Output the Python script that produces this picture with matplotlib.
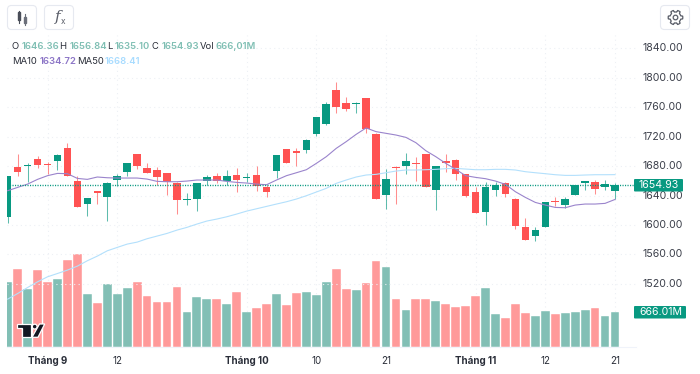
import matplotlib
matplotlib.use('Agg')
import matplotlib.pyplot as plt
from matplotlib.patches import FancyBboxPatch, Polygon, Circle, Rectangle
import numpy as np

plt.rcParams['font.family'] = ['Inter', 'DejaVu Sans']

#price data, one value per session
opens = [1611, 1678.3, 1679.7, 1689.6, 1682.8, 1687.4, 1704.6, 1660.2, 1628.9, 1645.7, 1638.4,
         1661.5, 1672, 1695.9, 1677.8, 1675.1, 1670.6, 1656.6, 1633.9, 1634.8, 1660.2,
         1666, 1659.3, 1667.4, 1663.8, 1667.9, 1652, 1672.9, 1703.2, 1700, 1702.3,
         1724, 1737.6, 1782.9, 1765.7, 1764.4, 1772.5, 1723.1, 1640.2, 1678.7, 1680.1,
         1684.2, 1696.4, 1647.5, 1686.4, 1688.3, 1669.2, 1644.3, 1617.6, 1647.5, 1656.6,
         1635.7, 1597.7, 1585, 1596.8, 1632.5, 1627.1, 1640.2, 1657.5, 1658.4, 1651.1, 1646.36]
highs = [1667, 1696.4, 1683.7, 1693.7, 1685.5, 1696.4, 1710.9, 1666.5, 1637.1, 1646.6, 1657.9,
         1669.7, 1684.2, 1695.9, 1684.2, 1679.2, 1670.6, 1658.8, 1643.4, 1657, 1667.4,
         1671, 1674.7, 1676.9, 1670.1, 1680.1, 1653.8, 1694.6, 1703.2, 1704.6, 1717.3,
         1746.7, 1766.6, 1794.3, 1773.4, 1767.5, 1772.5, 1724.5, 1676.5, 1679.6, 1697.8,
         1691.9, 1696.4, 1680.1, 1695.9, 1690.1, 1669.2, 1652, 1658.4, 1658.8, 1658.4,
         1636.6, 1609.4, 1596.8, 1631.2, 1638.4, 1637.5, 1653.8, 1659.7, 1660.6, 1660.6, 1656.84]
lows = [1603, 1667, 1658.8, 1677.8, 1669.2, 1674.7, 1666, 1623.9, 1612.6, 1628.9, 1605.4,
        1652.9, 1667, 1676, 1670.6, 1654.3, 1640.7, 1615.3, 1626.6, 1618.5, 1653.8,
        1657, 1653.8, 1644.8, 1658.4, 1646.6, 1638.4, 1663.4, 1684.6, 1680.1, 1697.8,
        1720.9, 1735.4, 1752.6, 1754.4, 1752.6, 1724.5, 1635.7, 1621.7, 1628, 1669.2,
        1659.7, 1652, 1620.3, 1671.5, 1660.6, 1638.4, 1616.7, 1599.9, 1639.3, 1637.5,
        1594.5, 1579.5, 1577.7, 1596.8, 1625.7, 1622.6, 1640.2, 1647, 1642.5, 1647.5, 1635.10]
closes = [1667, 1672.4, 1681.5, 1681.9, 1681, 1695.5, 1666, 1623.9, 1637.1, 1643, 1657.5,
          1667, 1684.2, 1680.6, 1670.6, 1664.7, 1657.9, 1633.9, 1635.3, 1657, 1665.6,
          1660.2, 1666, 1661.5, 1665.2, 1652.5, 1645.2, 1694.6, 1684.6, 1697.8, 1715.9,
          1746.7, 1764.8, 1760.3, 1757.6, 1766.2, 1730.8, 1635.7, 1662.4, 1677.4, 1686.4,
          1682.8, 1652, 1680.1, 1684.6, 1669.2, 1639.3, 1616.7, 1651.6, 1654.3, 1642.5,
          1599, 1579.5, 1592.7, 1631.2, 1631.2, 1634.8, 1653.8, 1659.7, 1648.4, 1655.2, 1654.93]
volumes = [1214, 1456, 1083, 1444, 1220, 1270, 1624, 1749, 1002, 822, 1183,
           996, 1108, 1214, 958, 853, 853, 1127, 654, 934, 902,
           896, 803, 1033, 666, 728, 803, 990, 784, 1008, 1027,
           983, 1214, 1469, 1089, 1071, 1207, 1612, 1506, 902, 697,
           902, 896, 871, 809, 753, 772, 952, 1114, 616, 548,
           809, 647, 591, 678, 622, 647, 654, 697, 741, 591, 666.01]
ma10 = [1646.6, 1651.1, 1655.6, 1662, 1667, 1670.1, 1669.7, 1663.3, 1662, 1665.2, 1664.2,
        1663.8, 1663.8, 1663.8, 1662.4, 1659.3, 1658.8, 1658.8, 1659.7, 1661.1, 1661.1,
        1661.1, 1659.3, 1657.9, 1657, 1655.6, 1654.7, 1661.1, 1667, 1671, 1675.1,
        1683.7, 1692.8, 1704.1, 1713.2, 1723.1, 1731.8, 1726.8, 1724.5, 1722.2, 1719,
        1711.8, 1700.9, 1692.8, 1683.7, 1675.6, 1667, 1664.7, 1662.9, 1659.7, 1655.2,
        1645.2, 1637.5, 1630.7, 1627.1, 1623.9, 1623.5, 1627.1, 1628.5, 1628.5, 1629.4, 1634.72]
ma50 = [1499.4, 1507, 1515.2, 1522.9, 1529.7, 1534.2, 1538.8, 1544.2, 1551.5, 1557.8, 1565,
        1569.6, 1574.1, 1576.8, 1581.4, 1585, 1588.6, 1593.1, 1596.8, 1601.3, 1605.4,
        1608.1, 1611.2, 1614.9, 1618.9, 1622.1, 1625.3, 1628.5, 1631.6, 1635.3, 1639.8,
        1644.8, 1649.8, 1656.6, 1661.1, 1665.2, 1667.9, 1668.8, 1671, 1673.3, 1674.7,
        1674.7, 1675.1, 1675.6, 1676.5, 1676.9, 1676, 1675.1, 1675.1, 1675.6, 1675.6,
        1674.7, 1672.4, 1671, 1669.7, 1668.3, 1667.4, 1667.4, 1667.9, 1668.3, 1668.3, 1668.41]

price_ticks = [1520, 1560, 1600, 1640, 1680, 1720, 1760, 1800, 1840]
time_ticks = [4, 11, 24, 31, 38, 47, 54, 61]
time_labels = ['Tháng 9', '12', 'Tháng 10', '10', '21', 'Tháng 11', '12', '21']
time_bold = [True, False, True, False, False, True, False, False]

UP = '#089981'
DOWN = '#FF5252'
VOL_UP = '#82BFB5'
VOL_DOWN = '#FF9A9A'
GRID = '#EDF0F5'
TEXT = '#2A2E39'

W, H = 700, 374
fig = plt.figure(figsize=(7, 3.74), dpi=100)

#chart area in pixels: x 7-636, y 35-347
rect = [7 / W, 1 - 347.3 / H, 629 / W, 312.3 / H]

#volume goes behind the candles
ax_vol = fig.add_axes(rect)
ax = fig.add_axes(rect)
ax.patch.set_alpha(0)

x = np.arange(len(closes))
is_up = np.array(closes) >= np.array(opens)

ax_vol.bar(x, volumes, width=0.88, color=[VOL_UP if u else VOL_DOWN for u in is_up],
           edgecolor='white', linewidth=0.3)
ax_vol.set_xlim(-0.07, 63.11)
ax_vol.set_ylim(0, 5830)
ax_vol.set_yticks([])
ax_vol.set_xticks(time_ticks)
ax_vol.set_xticklabels([])
ax_vol.tick_params(length=0)
ax_vol.grid(axis='x', color=GRID, linestyle=(0, (1, 3)), linewidth=0.8)
ax_vol.set_axisbelow(True)
for s in ['top', 'left', 'right']:
    ax_vol.spines[s].set_visible(False)
ax_vol.spines['bottom'].set_color('#F0F3FA')

#horizontal grid
for p in price_ticks:
    ax.axhline(p, color=GRID, linestyle=(0, (1, 3)), linewidth=0.8, zorder=0)

#candles
for i in x:
    c = UP if is_up[i] else DOWN
    ax.plot([i, i], [lows[i], highs[i]], color=c, linewidth=0.75, alpha=0.65, zorder=2,
            solid_capstyle='butt')
    top = max(opens[i], closes[i])
    bot = min(opens[i], closes[i])
    ax.bar(i, top - bot, bottom=bot, width=0.76, color=c, linewidth=0, zorder=3)

ax.plot(x, ma50, color='#B3E0FC', linewidth=0.8, zorder=4)
ax.plot(x, ma10, color='#9A84CC', linewidth=0.8, zorder=4)
ax.axhline(closes[-1], color=UP, linestyle=(0, (0.8, 1)), linewidth=1, zorder=4)

ax.set_xlim(-0.07, 63.11)
ax.set_ylim(1434, 1858)
ax.set_xticks([])
ax.set_yticks([])
for s in ax.spines.values():
    s.set_visible(False)

#price labels and time labels are placed through the axes transforms
for p in price_ticks:
    ax.annotate(f'{p:.2f}', xy=(1, p), xycoords=('axes fraction', 'data'), xytext=(6.5, 0),
                textcoords='offset pixels', ha='left', va='center', fontsize=7.6, color='#3B3F4A')
for t, lab, b in zip(time_ticks, time_labels, time_bold):
    ax.annotate(lab, xy=(t, 0), xycoords=('data', 'axes fraction'), xytext=(0, -13.5),
                textcoords='offset pixels', ha='center', va='center', fontsize=7,
                color=TEXT, fontweight='bold' if b else 'normal')

#overlay in pixel coordinates for the toolbar, header and logo
ov = fig.add_axes([0, 0, 1, 1])
ov.set_xlim(0, W)
ov.set_ylim(H, 0)
ov.axis('off')
ov.patch.set_alpha(0)


def button(x0, y0, w, h):
    ov.add_patch(FancyBboxPatch((x0 + 3, y0 + 3), w - 6, h - 6, boxstyle='round,pad=3,rounding_size=4',
                                facecolor='white', edgecolor='#E6E9F0', linewidth=0.8))


button(7.5, 5.5, 29, 24)
button(44.5, 5.5, 29, 24)
button(660.5, 5.5, 29, 24)

#candle icon
ov.plot([19, 19], [10.5, 22.5], color='#4A4E59', linewidth=0.8)
ov.add_patch(Rectangle((17.6, 12), 2.8, 8, color='#4A4E59'))
ov.plot([25, 25], [14, 24.5], color='#6B6F7A', linewidth=0.8)
ov.add_patch(Rectangle((23.6, 16.5), 2.8, 6, color='#6B6F7A'))

#fx icon
ov.text(58, 17, 'f', fontsize=11, style='italic', color='#5A5E69', ha='center', va='center',
        family='DejaVu Serif')
ov.text(63, 21.5, 'x', fontsize=6, color='#5A5E69', ha='center', va='center')

#gear icon
ang = np.linspace(0, 2 * np.pi, 64, endpoint=False)
rad = 6.4 + 0.9 * np.sign(np.cos(6 * ang))
ov.add_patch(Polygon(np.c_[675.5 + rad * np.cos(ang), 17.5 + rad * np.sin(ang)], closed=True,
                     facecolor='white', edgecolor='#5A5E69', linewidth=0.9, joinstyle='round'))
ov.add_patch(Circle((675.5, 17.5), 2.3, facecolor='white', edgecolor='#5A5E69', linewidth=0.9))

#header text
HEAD_TEAL = '#7FBFB3'
row1 = [(11.7, 'O', TEXT), (22, '1646.36', HEAD_TEAL), (59.3, 'H', TEXT), (69.3, '1656.84', HEAD_TEAL),
        (106.7, 'L', TEXT), (114.7, '1635.10', HEAD_TEAL), (151.7, 'C', TEXT), (162, '1654.93', HEAD_TEAL),
        (199.3, 'Vol', TEXT), (215.3, '666,01M', HEAD_TEAL)]
row2 = [(11.7, 'MA10', TEXT), (39.7, '1634.72', '#8B74C6'), (77, 'MA50', TEXT), (105, '1668.41', '#A8DCFF')]
for px, s, c in row1:
    ov.text(px, 46.7, s, fontsize=6.8, color=c, ha='left', va='center',
            fontweight='normal' if c == TEXT else 'semibold')
for px, s, c in row2:
    ov.text(px, 61, s, fontsize=6.8, color=c, ha='left', va='center',
            fontweight='normal' if c == TEXT else 'semibold')

#last value tags
ov.add_patch(FancyBboxPatch((634.5, 179.5), 48, 11.5, boxstyle='round,pad=0.5,rounding_size=1',
                            facecolor=UP, edgecolor='none'))
ov.text(659, 185.3, '1654.93', fontsize=7.6, color='white', ha='center', va='center')
ov.add_patch(FancyBboxPatch((634.5, 306.5), 51, 11.5, boxstyle='round,pad=0.5,rounding_size=1',
                            facecolor=UP, edgecolor='none'))
ov.text(661, 312.3, '666.01M', fontsize=7.6, color='white', ha='center', va='center')

#logo
logo = dict(facecolor='#131722', edgecolor='white', linewidth=0.9)
ov.add_patch(Polygon([(17.3, 324), (30.7, 324), (30.7, 337.3), (22.3, 337.3), (22.3, 328.3), (17.3, 328.3)],
                     closed=True, **logo))
ov.add_patch(Circle((34.7, 326.6), 2.4, **logo))
ov.add_patch(Polygon([(39.5, 324), (44.7, 324), (38, 337.3), (32, 337.3)], closed=True, **logo))

fig.savefig('out.png', dpi=100)
